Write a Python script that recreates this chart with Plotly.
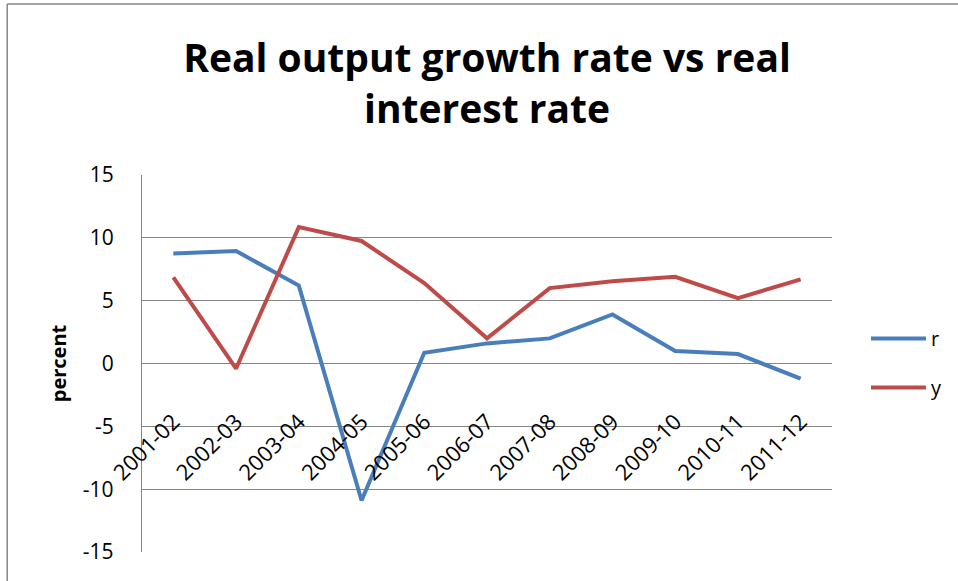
import plotly.graph_objects as go

# Fiscal years on the category axis
years = ["2001-02", "2002-03", "2003-04", "2004-05", "2005-06", "2006-07",
         "2007-08", "2008-09", "2009-10", "2010-11", "2011-12"]

# Real interest rate (percent)
r_values = [8.75, 8.95, 6.2, -10.9, 0.85, 1.6, 2.0, 3.9, 1.0, 0.75, -1.2]

# Real output growth rate (percent)
y_values = [6.85, -0.4, 10.85, 9.75, 6.4, 2.0, 6.0, 6.55, 6.9, 5.2, 6.7]

y_ticks = [-15, -10, -5, 0, 5, 10, 15]
y_tick_labels = ["-15", "-10", "-5", "0", "5", "10", "15"]

BLUE = "#4A7EBB"
RED = "#BE4B48"
GRID = "#868686"
FONT = "Open Sans"

fig = go.Figure()
fig.add_trace(go.Scatter(x=years, y=r_values, name="r", mode="lines",
                         line=dict(color=BLUE, width=4), legendgroup="r"))
fig.add_trace(go.Scatter(x=years, y=y_values, name="y", mode="lines",
                         line=dict(color=RED, width=4), legendgroup="y"))

L, R, T, B = 142, 125, 175, 29
W, H = 958, 581
pw, ph = W - L - R, H - T - B

fig.update_layout(
    width=W, height=H,
    margin=dict(l=L, r=R, t=T, b=B),
    paper_bgcolor="white", plot_bgcolor="white",
    font=dict(family=FONT, size=20, color="black"),
    title=dict(
        text="<b>Real output growth rate vs real<br>interest rate</b>",
        x=0.5, xanchor="center", xref="paper",
        y=1 - 72 / H, yanchor="middle",
        font=dict(family=FONT, size=39, color="black"),
    ),
    showlegend=True,
    legend=dict(
        x=(866 - L) / pw, xanchor="left",
        y=(H - B - 319) / ph, yanchor="top",
        font=dict(family=FONT, size=20),
        tracegroupgap=20,
        itemwidth=55,
        bgcolor="rgba(0,0,0,0)",
    ),
    xaxis=dict(
        type="category",
        categoryorder="array", categoryarray=years,
        anchor="free",
        position=0.5,
        tickangle=-45,
        showgrid=False,
        showline=False,
        ticks="",
        zeroline=False,
        range=[-0.5, len(years) - 0.5],
        ticklabelstandoff=40,
        tickfont=dict(family=FONT, size=22),
    ),
    yaxis=dict(
        range=[-15, 15],
        tickvals=y_ticks,
        ticktext=y_tick_labels,
        showgrid=True, gridcolor=GRID, gridwidth=1.3,
        zeroline=False,
        showline=True, linecolor=GRID, linewidth=1.3,
        ticks="",
        ticklabelstandoff=23,
        tickfont=dict(family=FONT, size=21),
        title=dict(text="<b>percent</b>", standoff=10,
                   font=dict(family=FONT, size=20)),
    ),
)

# Chart frame: left and top edges
fig.add_shape(type="line", xref="paper", yref="paper",
              x0=(7 - L) / pw, x1=(7 - L) / pw,
              y0=(H - B - (H + 10)) / ph, y1=(H - B - 4) / ph,
              line=dict(color=GRID, width=1.5), layer="below")
fig.add_shape(type="line", xref="paper", yref="paper",
              x0=(7 - L) / pw, x1=(W + 10 - L) / pw,
              y0=(H - B - 4) / ph, y1=(H - B - 4) / ph,
              line=dict(color=GRID, width=1.5), layer="below")

fig.write_html("out.html")
